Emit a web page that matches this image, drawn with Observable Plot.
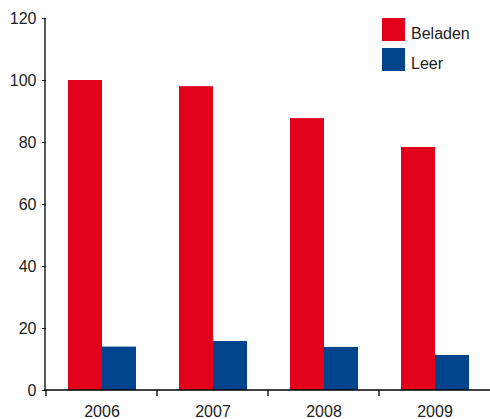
<!DOCTYPE html>
<html>
<head>
<meta charset="utf-8">
<script src="https://cdn.jsdelivr.net/npm/d3@7"></script>
<script src="https://cdn.jsdelivr.net/npm/@observablehq/plot@0.6"></script>
<style>
  html, body { margin: 0; padding: 0; background: #fff; }
  #wrap { position: relative; width: 490px; height: 419px; }
  #legend { position: absolute; left: 382px; top: 18px; font-family: "Liberation Sans", Arial, sans-serif; font-size: 16px; color: #222; }
  .item { display: flex; align-items: flex-end; height: 23px; margin-bottom: 7px; }
  .sw { width: 23px; height: 23px; margin-right: 6px; flex: none; }
  .lab { line-height: 16px; margin-bottom: -1px; }
</style>
</head>
<body>
<div id="wrap"></div>
<script>
const years = ["2006", "2007", "2008", "2009"];
const series = ["Beladen", "Leer"];
const beladen = [100, 98, 87.7, 78.4];
const leer = [14, 15.8, 13.9, 11.3];
const yTicks = [0, 20, 40, 60, 80, 100, 120];
const colors = ["#E2001A", "#00448E"];

const data = [];
years.forEach((yr, i) => {
  data.push({year: yr, series: series[0], value: beladen[i]});
  data.push({year: yr, series: series[1], value: leer[i]});
});

const chart = Plot.plot({
  width: 490,
  height: 419,
  marginLeft: 45,
  marginRight: 0,
  marginTop: 18,
  marginBottom: 29,
  style: {fontFamily: "Liberation Sans, Arial, sans-serif", fontSize: "16px", color: "#222", background: "white", overflow: "visible"},
  fx: {domain: years, padding: 0, label: null, axis: "bottom", tickSize: 0, tickPadding: 15},
  x: {domain: series, paddingInner: 0, paddingOuter: 0.589, axis: null},
  y: {domain: [0, 120], ticks: yTicks, tickSize: 4, tickPadding: 6, label: null},
  color: {domain: series, range: colors},
  marks: [
    Plot.barY(data, {fx: "year", x: "series", y: "value", fill: "series"})
  ]
});

document.getElementById("wrap").appendChild(chart);

// axis lines and band-boundary ticks from the plot's own scales
const svg = d3.select(chart);
const ys = chart.scale("y");
const fxs = chart.scale("fx");
const y0 = ys.apply(0), yTop = ys.apply(120);
const [fxr0, fxr1] = fxs.range;
const step = (fxr1 - fxr0) / fxs.domain.length;
const bandStart = (d) => (fxs.apply ? fxs.apply(d) : fxr0 + step * fxs.domain.indexOf(d));
const g = svg.append("g").attr("stroke", "#000").attr("stroke-width", 1.3).attr("fill", "none");
g.append("line").attr("x1", fxr0).attr("x2", fxr0).attr("y1", yTop).attr("y2", y0);
g.append("line").attr("x1", fxr0).attr("x2", fxr1).attr("y1", y0).attr("y2", y0);
years.forEach(yr => {
  const x = bandStart(yr);
  g.append("line").attr("x1", x).attr("x2", x).attr("y1", y0).attr("y2", y0 + 6);
});

// legend
const color = chart.scale("color");
const legend = d3.select("#wrap").append("div").attr("id", "legend");
series.forEach((s, i) => {
  const item = legend.append("div").attr("class", "item");
  item.append("div").attr("class", "sw").style("background", color.range[i]);
  item.append("div").attr("class", "lab").text(s);
});
</script>
</body>
</html>
